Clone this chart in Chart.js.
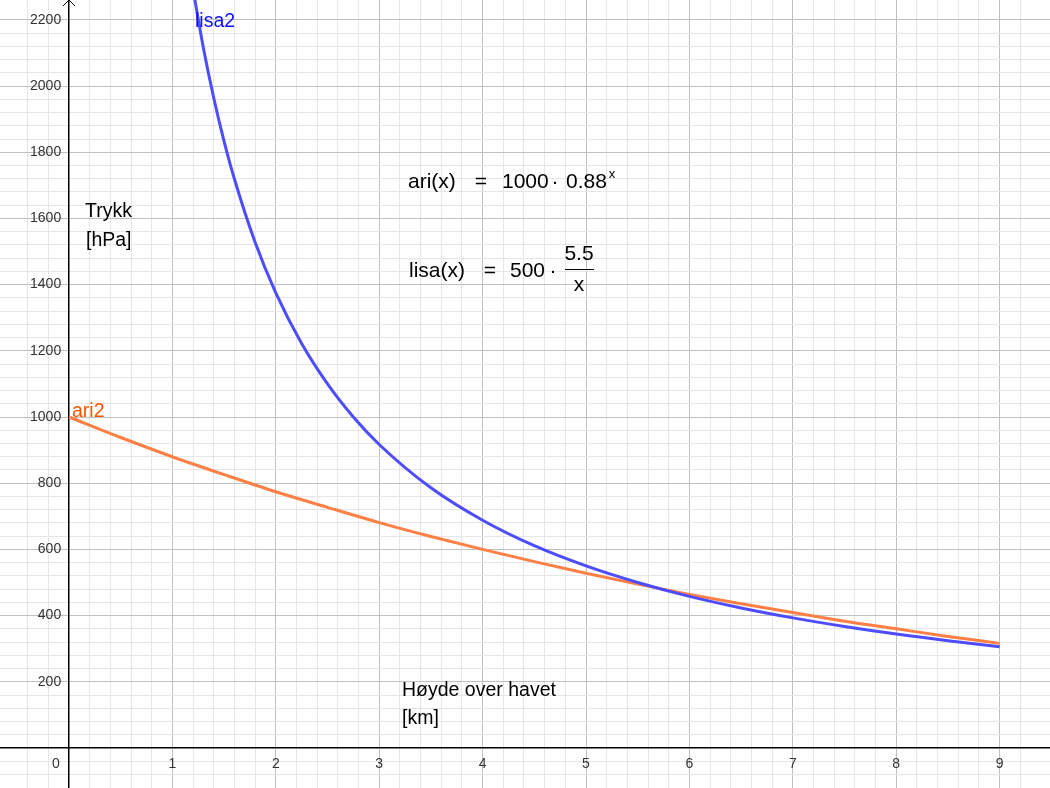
<!DOCTYPE html>
<html>
<head>
<meta charset="utf-8">
<title>Trykk og høyde</title>
<script src="https://cdn.jsdelivr.net/npm/chart.js@4.4.1/dist/chart.umd.min.js"></script>
<style>
  html, body { margin: 0; padding: 0; background: #fff; }
  #wrap { width: 1050px; height: 788px; }
</style>
</head>
<body>
<div id="wrap"><canvas id="graph" width="1050" height="788"></canvas></div>
<script>
// height in km / pressure in hPa
const ariKm = [0, 0.5, 1, 1.5, 2, 2.5, 3, 3.5, 4, 4.5, 5, 5.5, 6, 6.5, 7, 7.5, 8, 8.5, 9];
const ariHpa = [1000, 938, 880, 826, 774, 727, 681, 639, 600, 563, 528, 495, 464, 436, 409, 383, 360, 337, 316];

const lisaKm = [1.2, 1.3, 1.4, 1.5, 1.6, 1.8, 2, 2.25, 2.5, 2.75, 3, 3.5, 4, 4.5, 5, 5.5, 6, 6.5, 7, 7.5, 8, 8.5, 9];
const lisaHpa = [2292, 2115, 1964, 1833, 1719, 1528, 1375, 1222, 1100, 1000, 917, 786, 688, 611, 550, 500, 458, 423, 393, 367, 344, 324, 306];

// visible window of the graphics view
const xView = [-0.667, 9.487];
const yView = [-121, 2260];
const xStep = 0.2, xMajor = 1;
const yStep = 40, yMajor = 200;

const MAJOR = '#c0c0c0';
const MINOR = '#e6e6e6';
const BLUE = '#4d4dff';
const ORANGE = '#ff7f45';
const FONT = '"Liberation Sans", Arial, sans-serif';

function isMultiple(v, step) {
  return Math.abs(v / step - Math.round(v / step)) < 1e-6;
}

function gridColor(step, major) {
  return ctx => {
    const v = ctx.tick ? ctx.tick.value : NaN;
    if (Math.abs(v) < 1e-9) return 'rgba(0,0,0,0)';
    if (isMultiple(v, major)) return MAJOR;
    if (isMultiple(v, step)) return MINOR;
    return 'rgba(0,0,0,0)';
  };
}

function tickLabel(step, major, tail) {
  return v => {
    if (!isMultiple(v, step)) return null;
    if (Math.abs(v) < 1e-9) return '';
    if (isMultiple(v, major)) return String(Math.round(v)) + tail;
    return '';
  };
}

// positioned axes should not eat into the plot area
function noPadding(scale) {
  scale.paddingTop = 0;
  scale.paddingBottom = 0;
  scale.paddingLeft = 0;
  scale.paddingRight = 0;
}

const notes = {
  id: 'notes',
  afterDraw(chart) {
    const ctx = chart.ctx;
    const ox = chart.scales.x.getPixelForValue(0);
    const oy = chart.scales.y.getPixelForValue(0);
    ctx.save();

    // arrow at the top of the y axis
    ctx.strokeStyle = '#000';
    ctx.lineWidth = 1;
    ctx.beginPath();
    ctx.moveTo(ox - 6, 6);
    ctx.lineTo(ox, 0);
    ctx.lineTo(ox + 6, 6);
    ctx.stroke();

    // origin label
    ctx.fillStyle = '#333';
    ctx.font = '14px ' + FONT;
    ctx.textAlign = 'center';
    ctx.textBaseline = 'alphabetic';
    ctx.fillText('0', ox - 13, oy + 20);

    ctx.textAlign = 'left';
    ctx.font = '19.5px ' + FONT;
    ctx.fillStyle = '#000';
    ctx.fillText('Trykk', 85, 217);
    ctx.fillText('[hPa]', 86, 246);
    ctx.fillText('Høyde over havet', 402, 696);
    ctx.fillText('[km]', 402, 724);

    ctx.fillStyle = '#1010ff';
    ctx.fillText('lisa2', 195, 27);
    ctx.fillStyle = '#ff5500';
    ctx.fillText('ari2', 72, 417);

    // formulas
    ctx.fillStyle = '#000';
    ctx.font = '21px ' + FONT;
    ctx.fillText('ari(x)', 408, 188);
    ctx.fillText('1000', 502, 188);
    ctx.fillText('0.88', 566, 188);
    ctx.fillText('lisa(x)', 409, 277);
    ctx.fillText('500', 510, 277);
    ctx.textAlign = 'center';
    ctx.fillText('=', 481, 188);
    ctx.fillText('·', 555, 188);
    ctx.fillText('=', 490, 277);
    ctx.fillText('·', 553, 277);
    ctx.fillText('5.5', 579, 260);
    ctx.fillText('x', 579, 291);
    ctx.font = '13px ' + FONT;
    ctx.fillText('x', 612, 178);
    ctx.lineWidth = 1;
    ctx.beginPath();
    ctx.moveTo(565, 269.5);
    ctx.lineTo(594, 269.5);
    ctx.stroke();

    ctx.restore();
  }
};

const ctx = document.getElementById('graph').getContext('2d');

new Chart(ctx, {
  type: 'line',
  data: {
    datasets: [
      {
        label: 'lisa2',
        data: lisaKm.map((x, i) => ({ x: x, y: lisaHpa[i] })),
        borderColor: BLUE,
        borderWidth: 3,
        pointRadius: 0,
        cubicInterpolationMode: 'monotone',
        fill: false
      },
      {
        label: 'ari2',
        data: ariKm.map((x, i) => ({ x: x, y: ariHpa[i] })),
        borderColor: ORANGE,
        borderWidth: 3,
        pointRadius: 0,
        cubicInterpolationMode: 'monotone',
        fill: false
      }
    ]
  },
  options: {
    responsive: false,
    animation: false,
    layout: { padding: 0 },
    plugins: {
      legend: { display: false },
      title: { display: false },
      tooltip: { enabled: false }
    },
    scales: {
      x: {
        type: 'linear',
        position: { y: 0 },
        min: xView[0],
        max: xView[1],
        afterFit: noPadding,
        grid: { color: gridColor(xStep, xMajor), lineWidth: 1, drawTicks: false },
        border: { display: true, color: '#000', width: 1.5 },
        ticks: {
          stepSize: xStep,
          autoSkip: false,
          maxRotation: 0,
          padding: 7.5,
          color: '#333',
          font: { family: FONT, size: 14 },
          callback: tickLabel(xStep, xMajor, '')
        }
      },
      y: {
        type: 'linear',
        position: { x: 0 },
        min: yView[0],
        max: yView[1],
        afterFit: noPadding,
        grid: { color: gridColor(yStep, yMajor), lineWidth: 1, drawTicks: false },
        border: { display: true, color: '#000', width: 1.5 },
        ticks: {
          stepSize: yStep,
          autoSkip: false,
          color: '#333',
          font: { family: FONT, size: 14 },
          callback: tickLabel(yStep, yMajor, '\u00a0\u00a0')
        }
      }
    }
  },
  plugins: [notes]
});
</script>
</body>
</html>
